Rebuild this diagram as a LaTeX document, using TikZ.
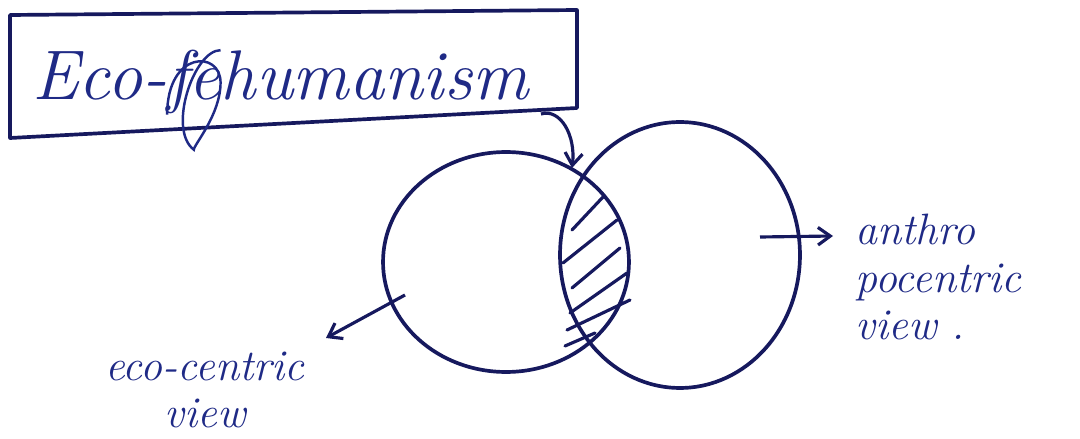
\documentclass[tikz,border=0pt]{standalone}
\usetikzlibrary{shapes.geometric,arrows.meta}
\definecolor{ink}{HTML}{16195E}
\definecolor{pen}{HTML}{1F2A86}
\tikzset{
  inkline/.style={draw=ink, line width=2.1pt},
  hand/.style={text=pen, font=\fontsize{25}{27}\selectfont\itshape, inner sep=0pt},
  titlefont/.style={text=pen, font=\fontsize{40}{42}\selectfont\itshape, inner sep=0pt, anchor=base west},
  arr/.style={ink, line width=1.8pt, -{Straight Barb[length=7pt,width=10pt]}},
  hatchline/.style={ink, line width=1.8pt, line cap=round},
  scribble/.style={draw=pen, line width=1.4pt},
}
\begin{document}
\begin{tikzpicture}[x=0.02cm,y=-0.02cm]
\useasboundingbox (0,0) rectangle (1080,439);
% title box
\coordinate (bnw) at (10,15);
\coordinate (bne) at (577,10);
\coordinate (bse) at (577,108);
\coordinate (bsw) at (10,138);
\draw[inkline, line join=round] (bnw) -- (bne) -- (bse) -- (bsw) -- cycle;
\node[titlefont] (t1) at (32,100) {Eco-};
\node[titlefont] (t2) at (t1.base east) {fe};
\node[titlefont] (t3) at (t2.base east) {humanism};
\draw[scribble] (t2.south west) .. controls (t2.north west) and (t2.north east) .. (t2.east)
  .. controls (t2.south east) and ([yshift=-0.6cm]t2.south) .. ([yshift=-0.7cm]t2.south)
  .. controls ([yshift=-0.3cm]t2.south west) and (t2.north) .. (t2.north east);
% circles
\node[inkline, ellipse, minimum width=4.92cm, minimum height=4.4cm, inner sep=0pt] (eco) at (506,262) {};
\node[inkline, ellipse, minimum width=4.8cm, minimum height=5.32cm, inner sep=0pt] (anthro) at (680,255) {};
% hatching of the overlap
\draw[hatchline] (572,230) -- (603,197);
\draw[hatchline] (563,263) -- (617,220);
\draw[hatchline] (572,288) -- (620,248);
\draw[hatchline] (570,313) -- (627,273);
\draw[hatchline] (567,330) -- (630,300);
\draw[hatchline] (565,346) -- (595,333);
% arrow from title to overlap
\coordinate (tstart) at (541,114);
\coordinate (ttip) at (572,168);
\draw[arr] (tstart) .. controls (560,108) and (576,135) .. (ttip);
% eco-centric label
\coordinate (ecostart) at (405,295);
\coordinate (ecoend) at (326,338);
\draw[arr] (ecostart) -- (ecoend);
\node[hand, align=center] (ecolabel) at (205,390) {eco-centric\\view};
% anthropocentric label
\coordinate (anstart) at (760,237);
\coordinate (anend) at (833,236);
\draw[arr] (anstart) -- (anend);
\node[hand, align=left, anchor=north west] (anlabel) at (855,214) {anthro\\pocentric\\view .};
\end{tikzpicture}
\end{document}
